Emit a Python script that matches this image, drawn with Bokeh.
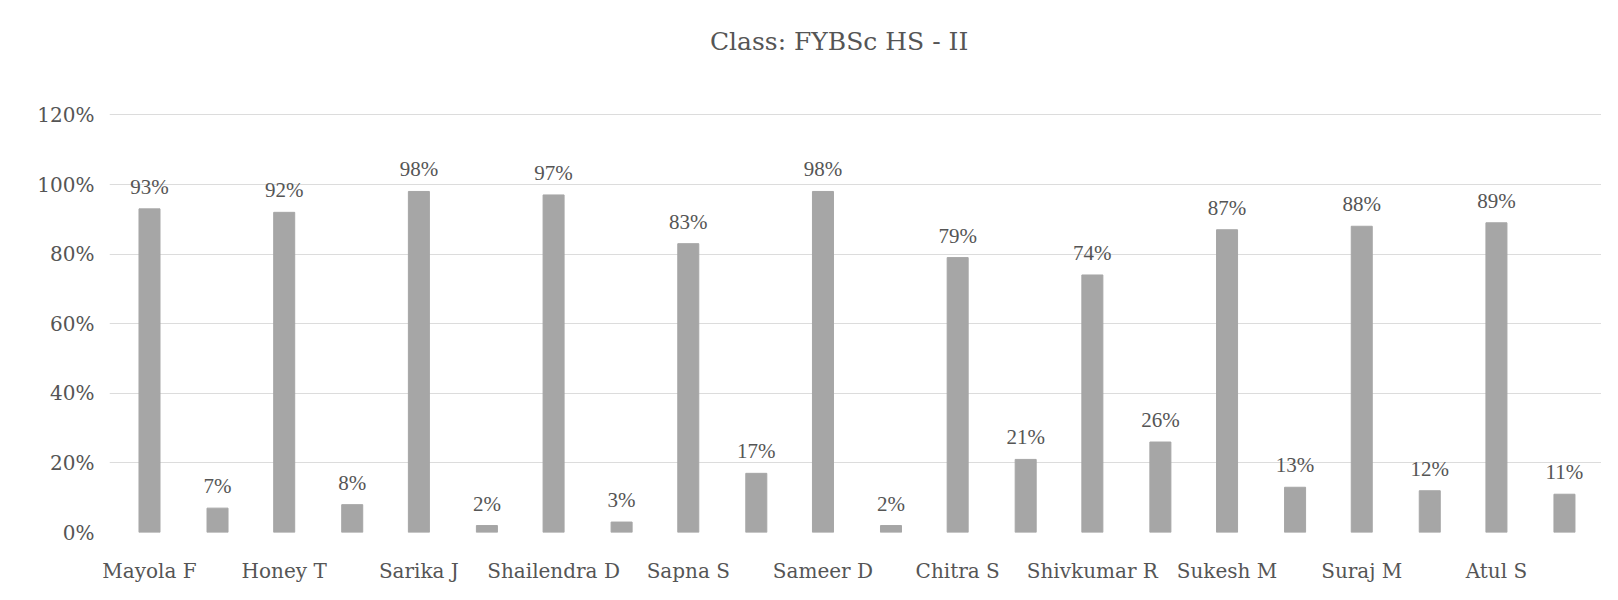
from bokeh.plotting import figure
from bokeh.models import (FixedTicker, PrintfTickFormatter, ColumnDataSource,
                          LabelSet, Label, Range1d)
from bokeh.embed import file_html
from bokeh.resources import INLINE

# ---- data ----
students = ["Mayola F", "Honey T", "Sarika J", "Shailendra D", "Sapna S",
            "Sameer D", "Chitra S", "Shivkumar R", "Sukesh M", "Suraj M", "Atul S"]
series_a = [93, 92, 98, 97, 83, 98, 79, 74, 87, 88, 89]
series_b = [7, 8, 2, 3, 17, 2, 21, 26, 13, 12, 11]
y_ticks = [0, 20, 40, 60, 80, 100, 120]
title_text = "Class: FYBSc HS - II"

FONT = "DejaVu Serif"
TEXT = "#555555"
BAR = "#a6a6a6"
GRID = "#dcdcdc"

n = len(students)
xa = [i for i in range(n)]
xb = [i + 0.505 for i in range(n)]

src_a = ColumnDataSource(dict(x=xa, y=series_a, lab=[f"{v}%" for v in series_a]))
src_b = ColumnDataSource(dict(x=xb, y=series_b, lab=[f"{v}%" for v in series_b]))

p = figure(width=1601, height=590, output_backend="svg", toolbar_location=None,
           x_range=Range1d(-0.297, 10.78), y_range=Range1d(0, 152.3),
           min_border_left=109, min_border_right=0, min_border_top=2,
           min_border_bottom=58)
p.outline_line_color = None
p.background_fill_color = "white"

p.vbar(x="x", top="y", bottom=0, width=0.156, source=src_a, color=BAR)
p.vbar(x="x", top="y", bottom=0, width=0.156, source=src_b, color=BAR)

for src in (src_a, src_b):
    p.add_layout(LabelSet(x="x", y="y", text="lab", source=src, y_offset=15,
                          text_align="center", text_baseline="alphabetic",
                          text_font=FONT, text_font_size="21px", text_color=TEXT))

p.add_layout(Label(x=5.12, y=141.0, text=title_text, text_align="center",
                   text_baseline="middle", text_font=FONT, text_font_size="25px",
                   text_color=TEXT))

# axes
p.yaxis.ticker = FixedTicker(ticks=y_ticks)
p.yaxis.formatter = PrintfTickFormatter(format="%d%%")
p.yaxis.axis_line_color = None
p.yaxis.major_tick_line_color = None
p.yaxis.minor_tick_line_color = None
p.yaxis.major_label_standoff = 9
p.yaxis.major_label_text_font = FONT
p.yaxis.major_label_text_font_size = "20px"
p.yaxis.major_label_text_color = TEXT

p.xaxis.ticker = FixedTicker(ticks=xa)
p.xaxis.major_label_overrides = {i: s for i, s in enumerate(students)}
p.xaxis.axis_line_color = None
p.xaxis.major_tick_line_color = None
p.xaxis.minor_tick_line_color = None
p.xaxis.major_label_standoff = 20
p.xaxis.major_label_text_font = FONT
p.xaxis.major_label_text_font_size = "20px"
p.xaxis.major_label_text_color = TEXT

p.xgrid.grid_line_color = None
p.ygrid.ticker = FixedTicker(ticks=y_ticks)
p.ygrid.grid_line_color = GRID
p.ygrid.grid_line_width = 1

open("out.html", "w").write(file_html(p, INLINE))
